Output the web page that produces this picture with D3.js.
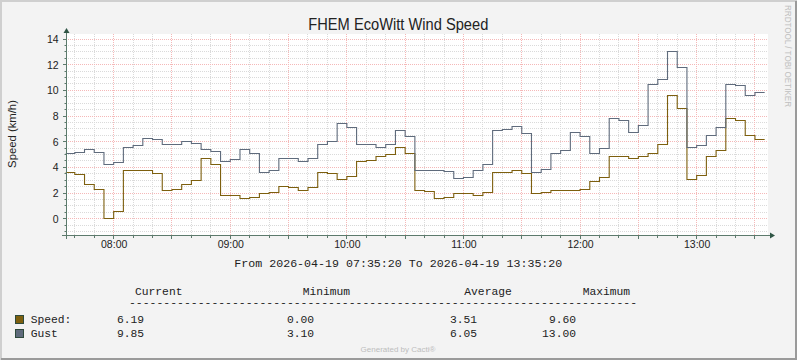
<!DOCTYPE html>
<html><head><meta charset="utf-8">
<script src="https://cdn.jsdelivr.net/npm/d3@7"></script>
<style>
html,body{margin:0;padding:0;background:#f3f3f3;}
svg{display:block;}
</style></head><body>
<svg id="chart" width="797" height="360"></svg>
<script>
// ---- data (5-minute RRD steps starting 07:35) ----
const startTime = "2026-04-19 07:35:20";
const endTime = "2026-04-19 13:35:20";
const firstStep = "2026-04-19 07:35:00";
const speed = [3.61,3.45,2.68,2.29,0.00,0.57,3.77,3.77,3.77,3.53,2.21,2.29,2.68,2.99,4.73,4.26,1.84,1.77,
  1.58,1.66,1.97,2.05,2.52,2.47,2.21,2.47,3.61,3.53,3.06,3.30,4.47,4.57,4.86,5.01,5.56,5.12,
  2.18,2.13,1.58,1.69,1.97,1.97,1.84,2.05,3.61,3.61,3.77,3.53,1.97,2.05,2.21,2.21,2.21,2.29,
  2.91,3.25,4.86,4.86,4.73,4.81,5.09,5.82,9.60,8.60,3.06,3.38,4.86,5.35,7.82,7.64,6.52,6.19];
const gust = [5.09,5.19,5.43,5.17,4.23,4.39,5.56,5.71,6.26,6.18,5.82,5.82,6.03,5.87,5.43,5.25,4.47,4.65,
  5.43,5.12,3.61,3.79,4.73,4.73,4.49,4.73,5.79,6.05,7.43,7.12,5.79,5.79,5.56,5.82,6.91,6.44,
  3.77,3.77,3.77,3.69,3.10,3.22,3.77,4.23,6.91,6.99,7.19,6.65,3.61,3.87,5.09,5.35,6.73,6.42,
  5.09,5.48,7.82,7.69,6.73,7.27,10.49,10.86,13.00,11.79,5.56,5.71,6.49,7.12,10.47,10.39,9.61,9.85];
const yTicks = [0, 2, 4, 6, 8, 10, 12, 14];
const xTickLabels = ["08:00","09:00","10:00","11:00","12:00","13:00"];
const seriesNames = ["Speed:", "Gust"];
const statHeaders = ["Current", "Minimum", "Average", "Maximum"];
const statsSpeed = ["6.19", "0.00", "3.51", "9.60"];
const statsGust = ["9.85", "3.10", "6.05", "13.00"];

// ---- layout ----
const svg = d3.select("#chart");
const W = 797, H = 360;
const parse = d3.timeParse("%Y-%m-%d %H:%M:%S");
const t0 = parse(startTime), t1 = parse(endTime), s0 = parse(firstStep);
const pxPerMin = 1.9433;
const x0 = 113.67 - 24.667 * pxPerMin;
const x = d3.scaleTime().domain([t0, t1]).range([x0, x0 + 360 * pxPerMin]);
const y = d3.scaleLinear().domain([-1.3, 14.4]).range([235.4, 33.9]);
const plotL = 66, plotR = 768, plotT = 34, plotB = 236;
const axisC = "#5c7a6c";
const crisp = v => Math.floor(v) + 0.5;

// background & border
svg.append("rect").attr("width", W).attr("height", H).attr("fill", "#f3f3f3");
svg.append("path").attr("d", `M1,${H} V1 H${W}`).attr("stroke", "#cfcfcf").attr("stroke-width", 2).attr("fill", "none");
svg.append("path").attr("d", `M1,${H-1} H${W-1} V1`).attr("stroke", "#9a9a9a").attr("stroke-width", 2).attr("fill", "none");

// plot background
svg.append("rect").attr("x", plotL).attr("y", plotT).attr("width", plotR - plotL).attr("height", plotB - plotT).attr("fill", "#ffffff");

// grid
const g = svg.append("g");
const minorY = d3.range(-1.0, 14.4, 0.5).filter(v => Math.abs(v % 2) > 0.01);
const minorT = d3.timeMinute.every(10).range(t0, t1).filter(d => d.getMinutes() % 30 !== 0);
const majorT = d3.timeMinute.every(30).range(t0, t1);
const minorC = "#dadada", majorC = "#f5b8b8";
g.selectAll(".hmin").data(minorY).join("line")
  .attr("x1", plotL).attr("x2", plotR).attr("y1", d => crisp(y(d))).attr("y2", d => crisp(y(d)))
  .attr("stroke", minorC).attr("stroke-dasharray", "1,1");
g.selectAll(".vmin").data(minorT).join("line")
  .attr("x1", d => crisp(x(d))).attr("x2", d => crisp(x(d))).attr("y1", plotT).attr("y2", plotB)
  .attr("stroke", minorC).attr("stroke-dasharray", "1,1");
g.selectAll(".hmaj").data(yTicks).join("line")
  .attr("x1", plotL).attr("x2", plotR).attr("y1", d => crisp(y(d))).attr("y2", d => crisp(y(d)))
  .attr("stroke", majorC).attr("stroke-dasharray", "1,1");
g.selectAll(".vmaj").data(majorT).join("line")
  .attr("x1", d => crisp(x(d))).attr("x2", d => crisp(x(d))).attr("y1", plotT).attr("y2", plotB)
  .attr("stroke", majorC).attr("stroke-dasharray", "1,1");

// series lines (step)
function stepData(vals) {
  const pts = vals.map((v, i) => {
    let t = d3.timeMinute.offset(s0, 5 * i);
    if (t < t0) t = t0;
    return [t, v];
  });
  pts.push([d3.timeMinute.offset(s0, 5 * vals.length), vals[vals.length - 1]]);
  return pts;
}
const line = d3.line().x(d => x(d[0])).y(d => crisp(y(d[1]))).curve(d3.curveStepAfter);
svg.append("path").datum(stepData(speed)).attr("d", line)
  .attr("fill", "none").attr("stroke", "#7d5f0e").attr("stroke-width", 1.1);
svg.append("path").datum(stepData(gust)).attr("d", line)
  .attr("fill", "none").attr("stroke", "#5f6b7c").attr("stroke-width", 1.1);

// axes
const ax = svg.append("g");
ax.append("line").attr("x1", 62).attr("x2", 770).attr("y1", crisp(235.7)).attr("y2", crisp(235.7)).attr("stroke", axisC);
ax.append("line").attr("x1", crisp(66.7)).attr("x2", crisp(66.7)).attr("y1", 239).attr("y2", 31).attr("stroke", axisC);
ax.append("path").attr("d", "M66.5,28 L63.5,33 L69.5,33 Z").attr("fill", "#2f5545");
ax.append("path").attr("d", "M775,235.5 L770,232.5 L770,238.5 Z").attr("fill", "#2f5545");
// y ticks
ax.selectAll(".yt").data(minorY.concat(yTicks)).join("line")
  .attr("x1", d => yTicks.includes(d) ? 63 : 64.5).attr("x2", 66.5)
  .attr("y1", d => crisp(y(d))).attr("y2", d => crisp(y(d))).attr("stroke", axisC);
ax.selectAll(".xt").data(minorT.concat(majorT)).join("line")
  .attr("x1", d => crisp(x(d))).attr("x2", d => crisp(x(d)))
  .attr("y1", 236).attr("y2", d => d.getMinutes() % 30 === 0 ? 239 : 238).attr("stroke", axisC);

const yAxis = d3.axisLeft(y).tickValues(yTicks).tickSize(0).tickPadding(8).tickFormat(d3.format("d"));
const yg = svg.append("g").attr("transform", `translate(${66.7},0)`).call(yAxis);
yg.select(".domain").remove();
yg.selectAll("text").attr("font-family", "Liberation Sans, Arial, sans-serif").attr("font-size", "10.5px").attr("fill", "#222");

const hourTicks = d3.timeHour.every(1).range(t0, t1);
const xAxis = d3.axisBottom(x).tickValues(hourTicks).tickSize(0).tickPadding(5)
  .tickFormat((d, i) => xTickLabels[i]);
const xg = svg.append("g").attr("transform", `translate(0,${236})`).call(xAxis);
xg.select(".domain").remove();
xg.selectAll("text").attr("font-family", "Liberation Sans, Arial, sans-serif").attr("font-size", "10.5px").attr("fill", "#222");

// title
svg.append("text").attr("x", 398.3).attr("y", 29.5).attr("text-anchor", "middle")
  .attr("font-family", "Liberation Sans, Arial, sans-serif").attr("font-size", "15.6px")
  .attr("textLength", 180).attr("lengthAdjust", "spacingAndGlyphs").attr("fill", "#222")
  .text("FHEM EcoWitt Wind Speed");

// y label
svg.append("text").attr("transform", "translate(15.5,134) rotate(-90)").attr("text-anchor", "middle")
  .attr("font-family", "Liberation Sans, Arial, sans-serif").attr("font-size", "11.3px").attr("fill", "#222")
  .text("Speed (km/h)");

// watermark
svg.append("text").attr("transform", "translate(785,5) rotate(90)").attr("text-anchor", "start")
  .attr("font-family", "Liberation Sans, Arial, sans-serif").attr("font-size", "9.5px").attr("fill", "#c0c0c0")
  .attr("textLength", 102).attr("lengthAdjust", "spacingAndGlyphs")
  .text("RRDTOOL / TOBI OETIKER");

// time range text
const mono = "Liberation Mono, Courier New, monospace";
const monoSize = "11.3px";
svg.append("text").attr("x", 234.3).attr("y", 267).attr("font-family", mono).attr("font-size", monoSize)
  .attr("fill", "#222").attr("textLength", 328).attr("lengthAdjust", "spacingAndGlyphs")
  .text(`From ${startTime} To ${endTime}`);

// legend headers
const headX = [135, 302.7, 464.3, 582.7];
svg.selectAll(".hd").data(statHeaders).join("text")
  .attr("x", (d, i) => headX[i]).attr("y", 295).attr("font-family", mono).attr("font-size", monoSize)
  .attr("fill", "#222").text(d => d);
svg.append("text").attr("x", 129).attr("y", 306).attr("font-family", mono).attr("font-size", monoSize)
  .attr("fill", "#222").attr("textLength", 508).attr("lengthAdjust", "spacingAndGlyphs")
  .text("-".repeat(74));

// legend rows
const rows = [
  {name: seriesNames[0], color: "#7d5f0e", stats: statsSpeed, y: 323},
  {name: seriesNames[1], color: "#5f6b7c", stats: statsGust, y: 337}
];
const statRight = [144, 314, 477, 576];
rows.forEach(r => {
  svg.append("rect").attr("x", 15.5).attr("y", r.y - 7.5).attr("width", 8).attr("height", 8)
    .attr("fill", r.color).attr("stroke", "#2e4a3c").attr("stroke-width", 1);
  svg.append("text").attr("x", 30.7).attr("y", r.y).attr("font-family", mono).attr("font-size", monoSize)
    .attr("fill", "#222").text(r.name);
  r.stats.forEach((s, i) => {
    svg.append("text").attr("x", statRight[i]).attr("y", r.y).attr("text-anchor", "end")
      .attr("font-family", mono).attr("font-size", monoSize).attr("fill", "#222").text(s);
  });
});

// footer
svg.append("text").attr("x", 398).attr("y", 351.5).attr("text-anchor", "middle")
  .attr("font-family", "Liberation Sans, Arial, sans-serif").attr("font-size", "8px").attr("fill", "#bdbdbd")
  .text("Generated by Cacti®");
</script>
</body></html>
